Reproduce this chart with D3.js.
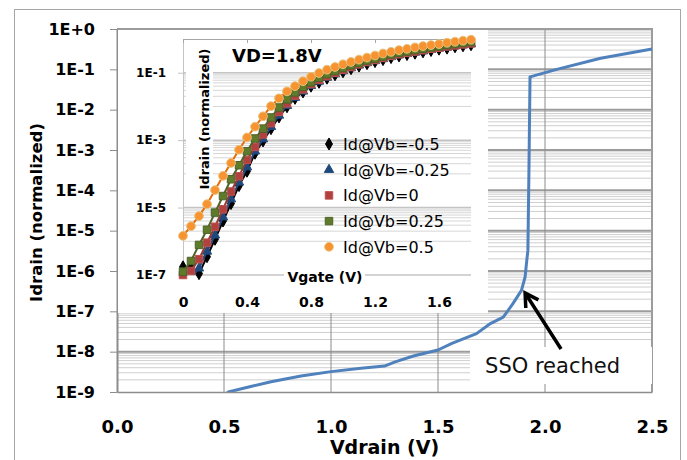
<!DOCTYPE html>
<html>
<head>
    <title>Idrain vs Vdrain, SSO</title>
    <meta charset="utf-8">
    <style>
        body { margin: 0; background: #fff; }
        svg text { font-family: 'DejaVu Sans', sans-serif; }
    </style>
</head>
<body>

<svg id="svg"></svg>
<script src="https://cdn.jsdelivr.net/npm/d3@7"></script>
<script>
    // main curve: Idrain (normalized) vs Vdrain
    const vdrain = [0.50, 0.52, 0.62, 0.72, 0.86, 1.00, 1.14, 1.25, 1.30, 1.385, 1.50, 1.565, 1.68,
        1.74, 1.805, 1.85, 1.89, 1.907, 1.915, 1.92, 1.925, 1.93, 2.055, 2.26, 2.50]
    const idrain = [7.9e-10, 1.0e-9, 1.35e-9, 1.8e-9, 2.5e-9, 3.2e-9, 3.9e-9, 4.4e-9, 5.6e-9, 7.8e-9,
        1.1e-8, 1.6e-8, 2.8e-8, 4.8e-8, 7.2e-8, 1.55e-7, 3.3e-7, 7.1e-7, 1.86e-6, 3.2e-6, 3.2e-4,
        6.5e-2, 0.1, 0.188, 0.32]

    const mainXTicks = [0, 0.5, 1, 1.5, 2, 2.5]
    const mainXLabels = ['0.0', '0.5', '1.0', '1.5', '2.0', '2.5']
    const mainYTicks = [1, 1e-1, 1e-2, 1e-3, 1e-4, 1e-5, 1e-6, 1e-7, 1e-8, 1e-9]
    const mainYLabels = ['1E+0', '1E-1', '1E-2', '1E-3', '1E-4', '1E-5', '1E-6', '1E-7', '1E-8', '1E-9']

    // inset: Idrain vs Vgate at VD=1.8V for several body biases
    const vgate = [0, 0.05, 0.1, 0.15, 0.2, 0.25, 0.3, 0.35, 0.4, 0.45, 0.5, 0.55, 0.6, 0.65, 0.7, 0.75,
        0.8, 0.85, 0.9, 0.95, 1, 1.05, 1.1, 1.15, 1.2, 1.25, 1.3, 1.35, 1.4, 1.45, 1.5, 1.55, 1.6, 1.65,
        1.7, 1.75, 1.8]
    const idVbM050 = [1.74e-7, 1.74e-7, 1.1e-7, 3.5e-7, 1.15e-6, 4.0e-6, 1.32e-5, 4.5e-5, 1.2e-4, 4.1e-4,
        9.5e-4, 2.2e-3, 4.9e-3, 9.8e-3, 1.74e-2, 2.7e-2, 4.0e-2, 5.2e-2, 6.9e-2, 8.7e-2,
        0.107, 0.132, 0.158, 0.186, 0.214, 0.245, 0.282, 0.316, 0.347, 0.380,
        0.417, 0.457, 0.501, 0.537, 0.589, 0.631, 0.676]
    const idVbM025 = [5.0e-8, 7.9e-8, 1.58e-7, 5.0e-7, 1.51e-6, 5.2e-6, 1.78e-5, 5.6e-5, 1.58e-4, 4.7e-4,
        1.07e-3, 2.5e-3, 5.4e-3, 1.05e-2, 1.82e-2, 2.8e-2, 4.1e-2, 5.5e-2, 7.2e-2, 9.1e-2,
        0.112, 0.138, 0.166, 0.195, 0.224, 0.257, 0.295, 0.331, 0.363, 0.398,
        0.437, 0.479, 0.525, 0.562, 0.617, 0.661, 0.708]
    const idVb000 = [1.0e-7, 1.32e-7, 2.95e-7, 9.1e-7, 2.7e-6, 8.9e-6, 3.0e-5, 8.5e-5, 2.6e-4, 6.3e-4,
        1.48e-3, 3.2e-3, 6.9e-3, 1.23e-2, 2.1e-2, 3.2e-2, 4.6e-2, 6.2e-2, 7.9e-2, 0.1,
        0.123, 0.148, 0.178, 0.209, 0.240, 0.275, 0.316, 0.355, 0.389, 0.427,
        0.468, 0.513, 0.550, 0.603, 0.646, 0.692, 0.741]
    const idVbP025 = [1.26e-7, 2.6e-7, 7.8e-7, 2.2e-6, 7.1e-6, 2.2e-5, 6.9e-5, 1.8e-4, 4.7e-4, 1.12e-3,
        2.2e-3, 4.7e-3, 9.3e-3, 1.62e-2, 2.6e-2, 3.8e-2, 5.2e-2, 7.1e-2, 9.1e-2, 0.112,
        0.138, 0.166, 0.195, 0.229, 0.263, 0.302, 0.347, 0.389, 0.427, 0.468,
        0.513, 0.562, 0.603, 0.661, 0.708, 0.759, 0.813]
    const idVbP050 = [1.45e-6, 2.8e-6, 5.6e-6, 1.26e-5, 3.3e-5, 8.7e-5, 2.1e-4, 5.2e-4, 1.2e-3, 2.5e-3,
        5.1e-3, 1.02e-2, 1.74e-2, 2.8e-2, 4.0e-2, 5.6e-2, 7.6e-2, 9.8e-2, 0.123, 0.148,
        0.178, 0.209, 0.245, 0.282, 0.324, 0.372, 0.417, 0.468, 0.513, 0.562,
        0.617, 0.661, 0.708, 0.776, 0.832, 0.891, 0.955]
    const seriesNames = ['Id@Vb=-0.5', 'Id@Vb=-0.25', 'Id@Vb=0', 'Id@Vb=0.25', 'Id@Vb=0.5']
    const seriesValues = [idVbM050, idVbM025, idVb000, idVbP025, idVbP050]

    const insetXTicks = [0, 0.4, 0.8, 1.2, 1.6]
    const insetXLabels = ['0', '0.4', '0.8', '1.2', '1.6']
    const insetYTicks = [1e-1, 1e-3, 1e-5, 1e-7]
    const insetYLabels = ['1E-1', '1E-3', '1E-5', '1E-7']

    // styles
    const lineColors = ['#000000', '#1F497D', '#953735', '#4F6228', '#E46C0A']
    const fillColors = ['#000000', '#1F497D', '#B0413E', '#5E7B2C', '#F79331']
    const strokeColors = ['#000000', '#1F497D', '#C0504D', '#4F6228', '#E9C27A']
    const symbolTypes = [d3.symbolDiamond, d3.symbolTriangle, d3.symbolSquare, d3.symbolSquare, d3.symbolCircle]
    const symbolSizes = [42, 38, 56, 56, 60]

    const WIDTH = 687
    const HEIGHT = 460

    const svg = d3.select('svg')
        .attr('width', WIDTH)
        .attr('height', HEIGHT)

    const xMain = d3.scaleLinear().domain([0, 2.5]).range([117, 652])
    const yMain = d3.scaleLog().domain([1e-9, 1]).range([392, 29])

    // chart frame
    svg.append('rect')
        .attr('x', 14.5).attr('y', 9.5)
        .attr('width', 666).attr('height', 460)
        .attr('fill', 'none').attr('stroke', '#a6a6a6')

    // main gridlines
    const minorY = d3.range(-9, 0).flatMap(e => d3.range(2, 10).map(k => k * Math.pow(10, e)))
    const grid = svg.append('g').attr('class', 'grid')
    grid.selectAll('line.minor')
        .data(minorY)
        .enter().append('line')
        .attr('class', 'minor')
        .attr('x1', xMain(0)).attr('x2', xMain(2.5))
        .attr('y1', d => yMain(d)).attr('y2', d => yMain(d))
        .attr('stroke', '#cfcfcf').attr('stroke-width', 1)
    grid.selectAll('line.major')
        .data(mainYTicks.slice(1, -1))
        .enter().append('line')
        .attr('class', 'major')
        .attr('x1', xMain(0)).attr('x2', xMain(2.5))
        .attr('y1', d => yMain(d)).attr('y2', d => yMain(d))
        .attr('stroke', '#9c9c9c').attr('stroke-width', 2)
    grid.selectAll('line.vert')
        .data(mainXTicks.slice(1, -1))
        .enter().append('line')
        .attr('class', 'vert')
        .attr('x1', d => xMain(d)).attr('x2', d => xMain(d))
        .attr('y1', yMain(1)).attr('y2', yMain(1e-9))
        .attr('stroke', '#8c8c8c').attr('stroke-width', 1)

    // plot border top / right
    svg.append('path')
        .attr('d', `M${xMain(0)},${yMain(1)}H${xMain(2.5)}V${yMain(1e-9)}`)
        .attr('fill', 'none').attr('stroke', '#9c9c9c').attr('stroke-width', 2)

    // main curve
    svg.append('clipPath').attr('id', 'mainClip')
        .append('rect')
        .attr('x', xMain(0)).attr('y', yMain(1) - 2)
        .attr('width', xMain(2.5) - xMain(0) + 3).attr('height', yMain(1e-9) - yMain(1) + 2)

    const mainLine = d3.line()
        .x((d, i) => xMain(vdrain[i]))
        .y(d => yMain(d))
    svg.append('path')
        .datum(idrain)
        .attr('clip-path', 'url(#mainClip)')
        .attr('d', mainLine)
        .attr('fill', 'none')
        .attr('stroke', '#4F81BD')
        .attr('stroke-width', 3)
        .attr('stroke-linejoin', 'round')

    // main axes
    const yAxisMain = svg.append('g')
        .attr('transform', `translate(${xMain(0)},0)`)
        .call(d3.axisLeft(yMain).tickValues(mainYTicks)
            .tickFormat((d, i) => mainYLabels[i]).tickSize(7).tickPadding(15).tickSizeOuter(0))
    yAxisMain.select('.domain').attr('stroke', '#8c8c8c').attr('stroke-width', 2)
    yAxisMain.selectAll('.tick line').attr('stroke', '#8c8c8c')
    yAxisMain.selectAll('text')
        .attr('font-size', 16).attr('font-weight', 'bold').attr('fill', '#000')
        .attr('font-family', "'DejaVu Sans', sans-serif")

    const xAxisMain = svg.append('g')
        .attr('transform', `translate(0,${yMain(1e-9)})`)
        .call(d3.axisBottom(xMain).tickValues(mainXTicks)
            .tickFormat((d, i) => mainXLabels[i]).tickSize(0).tickPadding(28).tickSizeOuter(0))
    xAxisMain.select('.domain').attr('stroke', '#8c8c8c').attr('stroke-width', 1.5)
    xAxisMain.selectAll('text')
        .attr('font-size', 18).attr('font-weight', 'bold').attr('fill', '#000')
        .attr('font-family', "'DejaVu Sans', sans-serif")

    svg.append('text')
        .attr('x', (xMain(0) + xMain(2.5)) / 2).attr('y', 454)
        .attr('text-anchor', 'middle')
        .attr('font-size', 19).attr('font-weight', 'bold')
        .text('Vdrain (V)')

    svg.append('text')
        .attr('transform', `translate(42,${(yMain(1) + yMain(1e-9)) / 2 + 2}) rotate(-90)`)
        .attr('text-anchor', 'middle')
        .attr('font-size', 16.5).attr('font-weight', 'bold')
        .text('Idrain (normalized)')

    // SSO annotation
    svg.append('rect')
        .attr('x', 470).attr('y', 347)
        .attr('width', 182).attr('height', 37)
        .attr('fill', '#fff')
    svg.append('text')
        .attr('x', xMain(1.72)).attr('y', 373)
        .attr('font-size', 21)
        .attr('fill', '#111')
        .text('SSO reached')

    const tip = [xMain(1.907), yMain(2.85e-7)]
    const tail = [xMain(2.075), yMain(1.16e-8)]
    const ang = Math.atan2(tip[1] - tail[1], tip[0] - tail[0])
    const headLen = 15, headAng = Math.PI / 6
    svg.append('path')
        .attr('d', `M${tail[0]},${tail[1]}L${tip[0]},${tip[1]}` +
            `M${tip[0] - headLen * Math.cos(ang - headAng)},${tip[1] - headLen * Math.sin(ang - headAng)}` +
            `L${tip[0]},${tip[1]}` +
            `L${tip[0] - headLen * Math.cos(ang + headAng)},${tip[1] - headLen * Math.sin(ang + headAng)}`)
        .attr('fill', 'none').attr('stroke', '#000')
        .attr('stroke-width', 3.5).attr('stroke-linecap', 'butt')

    // ---------- inset ----------
    const xIn = d3.scaleLinear().domain([0, 1.8]).range([183, 471])
    const yIn = d3.scaleLog().domain([1e-7, 1]).range([275, 39])

    svg.append('rect')
        .attr('x', 118).attr('y', 30)
        .attr('width', 370).attr('height', 283)
        .attr('fill', '#fff')

    const inMinor = [-2, -4, -6].flatMap(e => d3.range(1, 10).map(k => k * Math.pow(10, e)))
    const inGrid = svg.append('g')
    inGrid.selectAll('line.minor')
        .data(inMinor)
        .enter().append('line')
        .attr('x1', xIn(0)).attr('x2', xIn(1.8))
        .attr('y1', d => yIn(d)).attr('y2', d => yIn(d))
        .attr('stroke', '#d6d6d6').attr('stroke-width', 1)
    inGrid.selectAll('line.major')
        .data(insetYTicks)
        .enter().append('line')
        .attr('x1', xIn(0)).attr('x2', xIn(1.8))
        .attr('y1', d => yIn(d)).attr('y2', d => yIn(d))
        .attr('stroke', '#c4c4c4').attr('stroke-width', 1.5)

    const yAxisIn = svg.append('g')
        .attr('transform', `translate(${xIn(0)},0)`)
        .call(d3.axisLeft(yIn).tickValues(insetYTicks)
            .tickFormat((d, i) => insetYLabels[i]).tickSize(5).tickPadding(12).tickSizeOuter(0))
    yAxisIn.select('.domain').attr('stroke', '#c4c4c4')
    yAxisIn.selectAll('.tick line').attr('stroke', '#c4c4c4')
    yAxisIn.selectAll('text')
        .attr('font-size', 12).attr('font-weight', 'bold').attr('fill', '#000')
        .attr('font-family', "'DejaVu Sans', sans-serif")

    const xAxisInTop = svg.append('g')
        .attr('transform', `translate(0,${yIn(1)})`)
        .call(d3.axisTop(xIn).tickValues(insetXTicks).tickFormat('').tickSize(-4).tickSizeOuter(0))
    xAxisInTop.select('.domain').attr('stroke', '#a6a6a6')
    xAxisInTop.selectAll('.tick line').attr('stroke', '#a6a6a6')

    const xAxisIn = svg.append('g')
        .attr('transform', `translate(0,${yIn(1e-7)})`)
        .call(d3.axisBottom(xIn).tickValues(insetXTicks)
            .tickFormat((d, i) => insetXLabels[i]).tickSize(0).tickPadding(22).tickSizeOuter(0))
    xAxisIn.select('.domain').remove()
    xAxisIn.selectAll('text')
        .attr('font-size', 14).attr('font-weight', 'bold').attr('fill', '#000')
        .attr('font-family', "'DejaVu Sans', sans-serif")

    // inset axis titles (white boxes hide the gridlines behind them)
    svg.append('rect').attr('x', 284).attr('y', 267).attr('width', 81).attr('height', 19).attr('fill', '#fff')
    svg.append('text')
        .attr('x', 325).attr('y', 282)
        .attr('text-anchor', 'middle')
        .attr('font-size', 14).attr('font-weight', 'bold')
        .text('Vgate (V)')

    svg.append('rect').attr('x', 186).attr('y', 41).attr('width', 27).attr('height', 152).attr('fill', '#fff')
    svg.append('text')
        .attr('transform', 'translate(209,119) rotate(-90)')
        .attr('text-anchor', 'middle')
        .attr('font-size', 13).attr('font-weight', 'bold')
        .text('Idrain (normalized)')

    svg.append('text')
        .attr('x', 232).attr('y', 62)
        .attr('font-size', 18).attr('font-weight', 'bold')
        .text('VD=1.8V')

    // inset series
    svg.append('clipPath').attr('id', 'inClip')
        .append('rect')
        .attr('x', xIn(0)).attr('y', yIn(1) - 4)
        .attr('width', xIn(1.8) - xIn(0) + 4).attr('height', yIn(1e-7) - yIn(1) + 4)

    const inLine = d3.line()
        .x((d, i) => xIn(vgate[i]))
        .y(d => yIn(d))

    seriesValues.forEach((values, s) => {
        const g = svg.append('g').attr('class', 'series')
        g.append('path')
            .datum(values)
            .attr('clip-path', 'url(#inClip)')
            .attr('d', inLine)
            .attr('fill', 'none')
            .attr('stroke', lineColors[s])
            .attr('stroke-width', 2)
        g.selectAll('path.pt')
            .data(values.map((v, i) => ({v: v, x: vgate[i]})).filter(p => p.v >= 0.95e-7))
            .enter().append('path')
            .attr('class', 'pt')
            .attr('transform', p => `translate(${xIn(p.x)},${yIn(p.v)})`)
            .attr('d', d3.symbol().type(symbolTypes[s]).size(symbolSizes[s]))
            .attr('fill', fillColors[s])
            .attr('stroke', strokeColors[s])
            .attr('stroke-width', 1)
    })

    // legend
    const legend = svg.append('g')
        .selectAll('g')
        .data(seriesNames)
        .enter().append('g')
        .attr('transform', (d, i) => `translate(329,${144 + i * 25.7})`)
    legend.append('path')
        .attr('d', (d, i) => d3.symbol().type(symbolTypes[i]).size(symbolSizes[i])())
        .attr('fill', (d, i) => fillColors[i])
        .attr('stroke', (d, i) => strokeColors[i])
    legend.append('text')
        .attr('x', 14).attr('y', 6)
        .attr('font-size', 16)
        .attr('fill', '#000')
        .text(d => d)
</script>
</body>
</html>
